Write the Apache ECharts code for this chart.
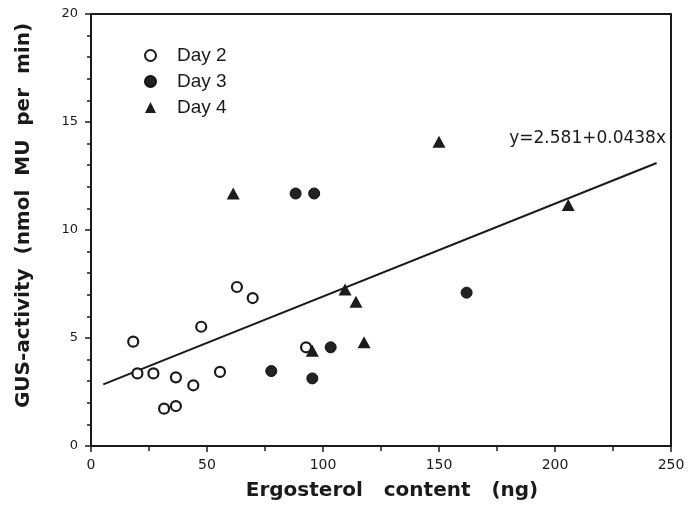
<!DOCTYPE html>
<html><head><meta charset="utf-8">
<script src="https://cdn.jsdelivr.net/npm/echarts@6/dist/echarts.min.js"></script>
<style>html,body{margin:0;padding:0;background:#fff}#c{width:699px;height:516px}</style>
</head><body><div id="c"></div>
<script>
// Data
const day2X = [18.2, 20.0, 26.9, 31.5, 36.6, 36.6, 44.1, 47.5, 55.6, 62.9, 69.7, 92.7];
const day2Y = [4.83, 3.36, 3.36, 1.73, 3.18, 1.85, 2.81, 5.52, 3.43, 7.36, 6.85, 4.57];
const day3X = [77.7, 88.2, 96.2, 95.4, 103.3, 161.9];
const day3Y = [3.47, 11.69, 11.69, 3.13, 4.57, 7.10];
const day4X = [61.3, 95.4, 109.5, 114.2, 117.7, 150.0, 205.7];
const day4Y = [11.69, 4.41, 7.25, 6.68, 4.80, 14.09, 11.16];
const fitX = [5.3, 243.8];
const fitY = [2.85, 13.1];
const seriesNames = ['Day 2', 'Day 3', 'Day 4'];
const equationText = 'y=2.581+0.0438x';
const xTitle = 'Ergosterol   content   (ng)';
const yTitle = 'GUS-activity  (nmol  MU  per  min)';

const zip = (a, b) => a.map((v, i) => [v, b[i]]);
const ink = '#1a1a1a';

const chart = echarts.init(document.getElementById('c'), null, {renderer: 'canvas'});
chart.setOption({
  animation: false,
  backgroundColor: '#fff',
  grid: {left: 91, right: 28, top: 14, bottom: 70, containLabel: false},
  legend: {
    data: seriesNames,
    orient: 'vertical',
    left: 139, top: 41,
    itemWidth: 11, itemHeight: 11, itemGap: 7,
    textStyle: {fontFamily: 'Liberation Sans', fontSize: 19, color: ink, padding: [0, 0, 0, 16]}
  },
  xAxis: [{
    type: 'value', min: 0, max: 250, interval: 50,
    name: xTitle, nameLocation: 'middle', nameGap: 35,
    nameTextStyle: {fontFamily: 'DejaVu Sans', fontWeight: 'bold', fontSize: 20, color: ink, padding: [0, 0, 0, 22]},
    axisLine: {show: true, lineStyle: {color: ink, width: 2}},
    axisTick: {show: true, inside: false, length: 6, lineStyle: {color: ink, width: 1.5}},
    minorTick: {show: true, splitNumber: 2, length: 5, lineStyle: {color: ink, width: 1.5}},
    axisLabel: {fontFamily: 'DejaVu Sans', fontSize: 14, color: ink, margin: 12},
    splitLine: {show: false}
  }, {
    type: 'value', position: 'top', min: 0, max: 250,
    axisLine: {show: true, onZero: false, lineStyle: {color: ink, width: 2}},
    axisTick: {show: false}, axisLabel: {show: false}, splitLine: {show: false}
  }],
  yAxis: [{
    type: 'value', min: 0, max: 20, interval: 5,
    name: yTitle, nameLocation: 'middle', nameGap: 57,
    nameTextStyle: {fontFamily: 'DejaVu Sans', fontWeight: 'bold', fontSize: 20, color: ink, padding: [0, 0, 0, 29]},
    axisLine: {show: true, lineStyle: {color: ink, width: 2}},
    axisTick: {show: true, inside: false, length: 6, lineStyle: {color: ink, width: 1.5}},
    minorTick: {show: true, splitNumber: 5, length: 4, lineStyle: {color: ink, width: 1.5}},
    axisLabel: {fontFamily: 'DejaVu Sans', fontSize: 13, color: ink, margin: 13},
    splitLine: {show: false}
  }, {
    type: 'value', position: 'right', min: 0, max: 20,
    axisLine: {show: true, onZero: false, lineStyle: {color: ink, width: 2}},
    axisTick: {show: false}, axisLabel: {show: false}, splitLine: {show: false}
  }],
  series: [
    {
      name: seriesNames[0], type: 'scatter', symbol: 'circle', symbolSize: 10,
      itemStyle: {color: '#fff', borderColor: ink, borderWidth: 2.2, opacity: 1},
      data: zip(day2X, day2Y), z: 3
    },
    {
      name: seriesNames[1], type: 'scatter', symbol: 'circle', symbolSize: 11,
      itemStyle: {color: '#222', borderColor: '#111', borderWidth: 1, opacity: 1},
      data: zip(day3X, day3Y), z: 3
    },
    {
      name: seriesNames[2], type: 'scatter', symbol: 'triangle', symbolSize: [13, 12],
      itemStyle: {color: '#1c1c1c', opacity: 1},
      data: zip(day4X, day4Y), z: 3
    },
    {
      name: 'fit', type: 'line', data: zip(fitX, fitY), symbol: 'none', silent: true,
      lineStyle: {color: ink, width: 2}, z: 2
    }
  ],
  graphic: [{
    type: 'text', right: 33, top: 130,
    style: {text: equationText, font: '17px "DejaVu Sans"', fill: ink}
  }]
});
</script></body></html>
